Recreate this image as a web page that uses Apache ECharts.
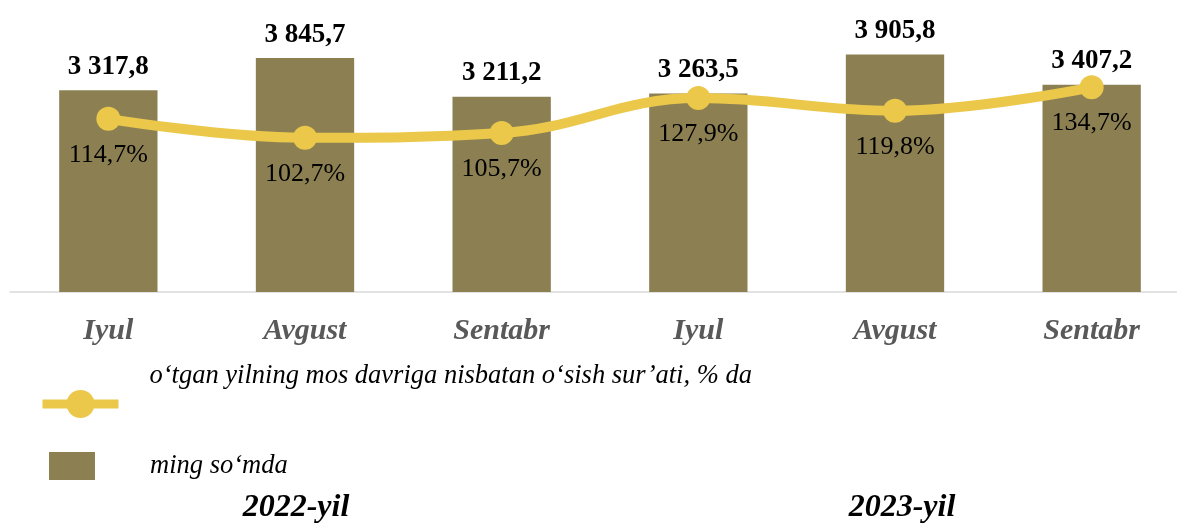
<!DOCTYPE html>
<html>
<head>
<meta charset="utf-8">
<script src="https://cdn.jsdelivr.net/npm/echarts@6/dist/echarts.min.js"></script>
<style>
    html,body{margin:0;padding:0;background:#fff;}
    #chart{width:1177px;height:523px;}
</style>
</head>
<body>
<div id="chart"></div>
<script>
//oylar
let months = ['Iyul', 'Avgust', 'Sentabr', 'Iyul', 'Avgust', 'Sentabr'];
let years = ['2022-yil', '2023-yil'];
//ming so'mda
let amountData = [3317.8, 3845.7, 3211.2, 3263.5, 3905.8, 3407.2];
//o'sish sur'ati, %
let growthData = [114.7, 102.7, 105.7, 127.9, 119.8, 134.7];

let barName = 'ming so‘mda';
let lineName = 'o‘tgan yilning mos davriga nisbatan o‘sish sur’ati, % da';

let serif = '"Liberation Serif", "Times New Roman", serif';

function fmtNum(v) {
    let parts = v.toFixed(1).split('.');
    let int = parts[0].replace(/\B(?=(\d{3})+(?!\d))/g, ' ');
    return int + ',' + parts[1];
}

let chart = echarts.init(document.getElementById('chart'));

let yearText = {fontFamily: serif, fontStyle: 'italic', fontWeight: 'bold', fontSize: 32, color: '#000'};

let option = {
    backgroundColor: '#fff',
    animation: false,
    grid: {left: 10, top: 0, width: 1180, height: 292, outerBoundsMode: 'none', containLabel: false},
    legend: [{
        data: [lineName],
        left: 33, top: 343,
        itemWidth: 76, itemHeight: 35,
        lineStyle: {width: 9},
        formatter: function (name) { return name + '\n '; },
        textStyle: {fontFamily: serif, fontStyle: 'italic', fontSize: 26.5, lineHeight: 56, color: '#000', padding: [0, 0, 0, 26]}
    }, {
        data: [{name: barName, icon: 'rect'}],
        left: 44, top: 447,
        itemWidth: 46, itemHeight: 28,
        textStyle: {fontFamily: serif, fontStyle: 'italic', fontSize: 26.5, color: '#000', padding: [0, 0, 0, 50]}
    }],
    xAxis: [{
        type: 'category',
        data: months,
        axisLine: {lineStyle: {color: '#d9d9d9', width: 1.5}},
        axisTick: {show: false},
        axisLabel: {
            margin: 24, fontFamily: serif, fontStyle: 'italic', fontWeight: 'bold',
            fontSize: 30, color: '#595959'
        }
    }, {
        type: 'category',
        data: years,
        position: 'bottom',
        offset: 200,
        axisLine: {show: false},
        axisTick: {show: false},
        axisLabel: {
            margin: 0, fontFamily: serif, fontStyle: 'italic', fontWeight: 'bold',
            fontSize: 32, color: '#000',
            formatter: function (v, i) { return i === 0 ? '{a|' + v + '}' : '{b|' + v + '}'; },
            rich: {
                a: Object.assign({padding: [0, 18, 0, 0]}, yearText),
                b: Object.assign({padding: [0, 0, 0, 14]}, yearText)
            }
        }
    }],
    yAxis: [{
        type: 'value', min: 0, max: 4800, show: false, splitLine: {show: false}
    }, {
        type: 'value', min: 5, max: 190, show: false, splitLine: {show: false}
    }],
    series: [{
        name: barName,
        type: 'bar',
        data: amountData,
        barWidth: '50%',
        itemStyle: {color: '#8c8053'},
        label: {
            show: true, position: 'top', distance: 10,
            fontFamily: serif, fontWeight: 'bold', fontSize: 27, color: '#000',
            formatter: function (p) { return fmtNum(p.value); }
        }
    }, {
        name: lineName,
        type: 'line',
        yAxisIndex: 1,
        data: growthData,
        smooth: 0.4,
        symbol: 'circle',
        symbolSize: 24,
        lineStyle: {color: '#ebc84a', width: 10},
        itemStyle: {color: '#ebc84a'},
        label: {
            show: true, position: 'bottom', distance: 11,
            fontFamily: serif, fontSize: 26, color: '#000',
            formatter: function (p) { return fmtNum(p.value) + '%'; }
        }
    }]
};

chart.setOption(option);
</script>
</body>
</html>
